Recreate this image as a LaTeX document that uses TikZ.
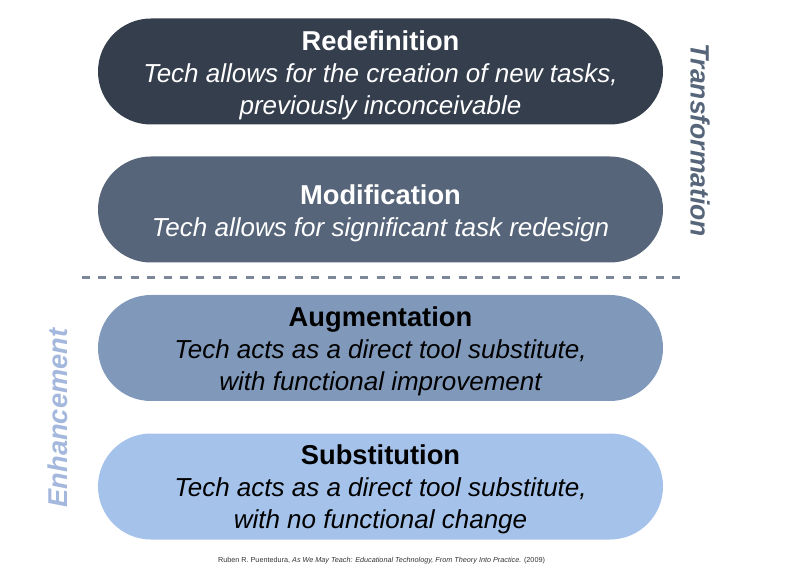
\documentclass[tikz,border=0pt]{standalone}
\usepackage{fontspec}
\setmainfont{Liberation Sans}
\definecolor{cRed}{HTML}{353E4D}
\definecolor{cMod}{HTML}{56657A}
\definecolor{cAug}{HTML}{8099BB}
\definecolor{cSub}{HTML}{A5C2EA}
\definecolor{cTrans}{HTML}{56657A}
\definecolor{cEnh}{HTML}{A3B8DC}
\definecolor{cDash}{HTML}{7C8799}
\definecolor{cCite}{HTML}{333333}
\newcommand{\ttl}[1]{{\fontsize{27.3}{32}\selectfont\bfseries #1}}
\tikzset{
  pill/.style={rectangle, rounded corners=53pt, minimum width=565pt, minimum height=106pt,
    inner sep=0pt},
  pilltext/.style={inner sep=0pt, align=center, font=\fontsize{26}{32}\selectfont},
  sidelabel/.style={font=\fontsize{26.5}{30}\selectfont\bfseries\itshape, inner sep=0pt},
}
\begin{document}
\begin{tikzpicture}[x=1pt,y=-1pt]
\useasboundingbox (0,0) rectangle (793,569);
\node[pill, fill=cRed] (red) at (380.5,71.5) {};
\node[pill, fill=cMod] (mod) at (380.5,209.5) {};
\node[pill, fill=cAug] (aug) at (380.5,348) {};
\node[pill, fill=cSub] (sub) at (380.5,486.5) {};
\node[pilltext, text=white] (redt) at ([yshift=-3.5pt]red.center)
  {\ttl{Redefinition}\\\itshape Tech allows for the creation of new tasks,\\\itshape previously inconceivable};
\node[pilltext, text=white] (modt) at ([yshift=-3.5pt]mod.center)
  {\ttl{Modification}\\\itshape Tech allows for significant task redesign};
\node[pilltext, text=black] (augt) at ([yshift=-3pt]aug.center)
  {\ttl{Augmentation}\\\itshape Tech acts as a direct tool substitute,\\\itshape with functional improvement};
\node[pilltext, text=black] (subt) at ([yshift=-3pt]sub.center)
  {\ttl{Substitution}\\\itshape Tech acts as a direct tool substitute,\\\itshape with no functional change};
\coordinate (dL) at (81.5,278);
\coordinate (dR) at (681,278);
\draw[cDash, line width=3pt, dash pattern=on 8pt off 8.4pt] (dL) -- (dR);
\node[sidelabel, text=cTrans, rotate=-90] (trans) at (700,140) {Transformation};
\node[sidelabel, text=cEnh, rotate=90, font=\fontsize{27.2}{30}\selectfont\bfseries\itshape] (enh) at (58,418) {Enhancement};
\node[font=\fontsize{7.25}{8}\selectfont, text=cCite, inner sep=0pt] (cite) at (381.5,561)
  {Ruben R. Puentedura, \textit{As We May Teach: Educational Technology, From Theory Into Practice.} (2009)};
\end{tikzpicture}
\end{document}
